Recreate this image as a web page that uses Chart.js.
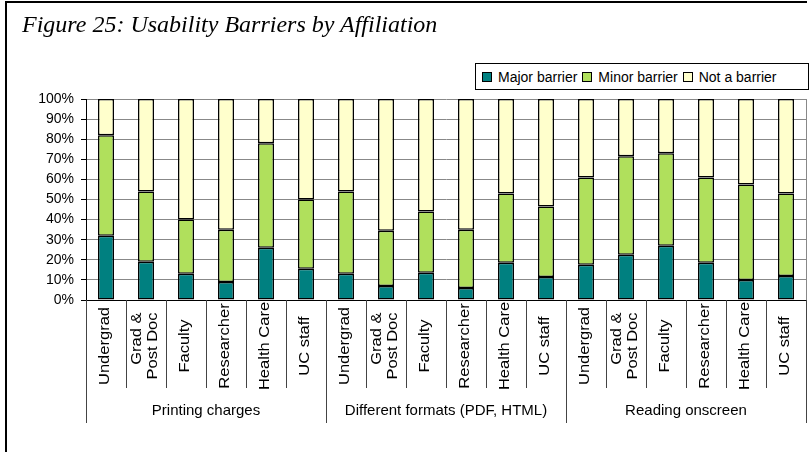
<!DOCTYPE html>
<html>
<head>
<meta charset="utf-8">
<script src="https://cdn.jsdelivr.net/npm/chart.js@4"></script>
<style>
  html, body { margin: 0; padding: 0; background: #fff; }
  #wrap { position: relative; width: 811px; height: 452px; overflow: hidden; }
  #c { position: absolute; left: 0; top: 0; }
  .frame-top { position: absolute; left: 5px; top: 1px; width: 802px; height: 2px; background: #000; }
  .frame-left { position: absolute; left: 5px; top: 1px; width: 2px; height: 451px; background: #000; }
  #title {
    position: absolute; left: 22px; top: 11px;
    font: italic 24px "Liberation Serif", "DejaVu Serif", serif; color: #000;
  }
  #legend {
    position: absolute; left: 475px; top: 63px; width: 326px; height: 25px;
    border: 1px solid #000; background: #fff;
    font: 14px "Liberation Sans", Arial, sans-serif; color: #000;
    display: flex; align-items: center; padding-left: 6px; box-sizing: content-box;
  }
  #legend .item { display: flex; align-items: center; margin-right: 5px; }
  #legend .sw { width: 8px; height: 8px; border: 1px solid #000; margin-right: 6px; }
</style>
</head>
<body>
<div id="wrap">
  <canvas id="c" width="811" height="452"></canvas>
  <div class="frame-top"></div>
  <div class="frame-left"></div>
  <div id="title">Figure 25: Usability Barriers by Affiliation</div>
  <div id="legend"></div>
</div>
<script>
// Categories (affiliation within each barrier type)
const affiliations = ['Undergrad', ['Grad &', 'Post Doc'], 'Faculty', 'Researcher', 'Health Care', 'UC staff'];
const groups = ['Printing charges', 'Different formats (PDF, HTML)', 'Reading onscreen'];
const labels = [...affiliations, ...affiliations, ...affiliations];

// Percent of respondents
const majorBarrier = [32, 19, 13, 9, 26, 15.5,   13, 7, 13.5, 6, 18.5, 11.5,   17.5, 22.5, 27, 18.5, 10, 12];
const minorBarrier = [50, 35, 27, 26, 52, 34.5,  41, 27.5, 30.5, 29, 34.5, 35,  43.5, 49, 46, 42.5, 47.5, 41];
const notABarrier  = [18, 46, 60, 65, 22, 50,    46, 65.5, 56, 65, 47, 53.5,    39, 28.5, 27, 39, 42.5, 47];

const yTicks = [0, 10, 20, 30, 40, 50, 60, 70, 80, 90, 100];

const seriesNames  = ['Major barrier', 'Minor barrier', 'Not a barrier'];
const seriesColors = ['#008080', '#B0E05C', '#FFFFCC'];

// HTML legend
const legendEl = document.getElementById('legend');
seriesNames.forEach((name, i) => {
  legendEl.innerHTML += `<div class="item"><div class="sw" style="background:${seriesColors[i]}"></div>${name}</div>`;
});

const LABEL_FONT = '14px "Liberation Sans", Arial, sans-serif';

// Draws the two-level category axis below the bars
const groupedAxis = {
  id: 'groupedAxis',
  afterDraw(chart) {
    const { ctx, chartArea: area } = chart;
    const x = chart.scales.x;
    const n = labels.length;
    const w = (area.right - area.left) / n;
    const perGroup = affiliations.length;

    ctx.save();
    // right border of the plot
    ctx.strokeStyle = '#888';
    ctx.lineWidth = 1;
    ctx.beginPath();
    ctx.moveTo(Math.round(area.right) + 0.5, area.top);
    ctx.lineTo(Math.round(area.right) + 0.5, area.bottom);
    ctx.stroke();

    // separators
    ctx.strokeStyle = '#444';
    for (let k = 0; k <= n; k++) {
      const px = Math.round(k < n ? x.getPixelForValue(k) - w / 2 : x.getPixelForValue(n - 1) + w / 2) + 0.5;
      const len = k % perGroup === 0 ? 123 : 88;
      ctx.beginPath();
      ctx.moveTo(px, area.bottom);
      ctx.lineTo(px, area.bottom + len);
      ctx.stroke();
    }

    // rotated affiliation labels
    ctx.fillStyle = '#000';
    ctx.font = LABEL_FONT;
    ctx.textBaseline = 'middle';
    labels.forEach((lab, i) => {
      const lines = Array.isArray(lab) ? lab : [lab];
      const maxW = Math.max(...lines.map(l => ctx.measureText(l).width));
      ctx.save();
      ctx.translate(x.getPixelForValue(i) - 1, area.bottom + 46);
      ctx.rotate(-Math.PI / 2);
      ctx.scale(1.18, 1);
      ctx.textAlign = 'right';
      lines.forEach((l, j) => {
        ctx.fillText(l, maxW / 2, (j - (lines.length - 1) / 2) * 16);
      });
      ctx.restore();
    });

    // group labels
    ctx.font = '15px "Liberation Sans", Arial, sans-serif';
    ctx.textAlign = 'center';
    groups.forEach((g, gi) => {
      const a = x.getPixelForValue(gi * perGroup);
      const b = x.getPixelForValue(gi * perGroup + perGroup - 1);
      ctx.fillText(g, (a + b) / 2, area.bottom + 111);
    });
    ctx.restore();
  }
};

new Chart(document.getElementById('c'), {
  type: 'bar',
  data: {
    labels: labels,
    datasets: [
      { label: seriesNames[0], data: majorBarrier, backgroundColor: seriesColors[0] },
      { label: seriesNames[1], data: minorBarrier, backgroundColor: seriesColors[1] },
      { label: seriesNames[2], data: notABarrier,  backgroundColor: seriesColors[2] }
    ].map(d => Object.assign(d, {
      borderColor: '#000', borderWidth: 1.5, borderSkipped: false,
      categoryPercentage: 1, barPercentage: 0.4
    }))
  },
  options: {
    responsive: false,
    animation: false,
    layout: { padding: { left: 0, right: 5, top: 99, bottom: 0 } },
    plugins: { legend: { display: false }, title: { display: false }, tooltip: { enabled: false } },
    scales: {
      x: {
        stacked: true,
        ticks: { display: false },
        grid: { display: false },
        border: { display: true, color: '#000', width: 1 },
        afterFit: s => { s.height = 152; }
      },
      y: {
        stacked: true,
        min: 0, max: 100,
        afterBuildTicks: s => { s.ticks = yTicks.map(v => ({ value: v })); },
        ticks: {
          callback: v => v + '%',
          color: '#000',
          padding: 7,
          font: { family: '"Liberation Sans", Arial, sans-serif', size: 14 }
        },
        grid: { color: '#888', tickColor: '#000', tickLength: 5 },
        border: { color: '#000', width: 1 },
        afterFit: s => { s.width = 86; }
      }
    }
  },
  plugins: [groupedAxis]
});
</script>
</body>
</html>
